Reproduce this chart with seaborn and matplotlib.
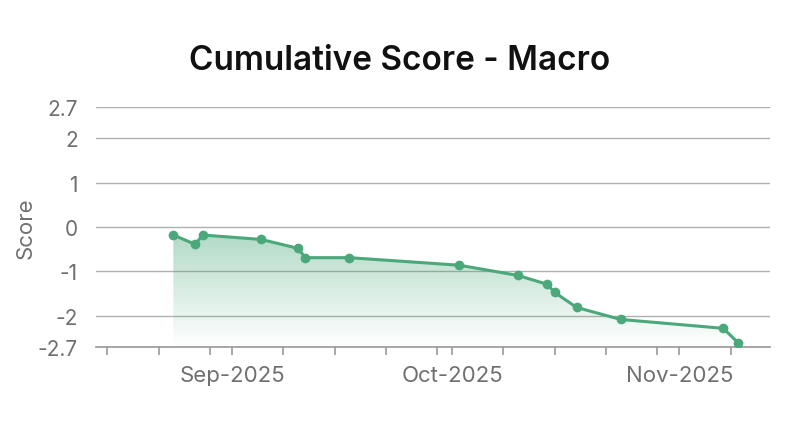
import numpy as np
import pandas as pd
import matplotlib
matplotlib.use('Agg')
import matplotlib.pyplot as plt
import matplotlib.dates as mdates
from matplotlib.colors import LinearSegmentedColormap
import seaborn as sns

dates = ['2025-08-24', '2025-08-27', '2025-08-28', '2025-09-05', '2025-09-10',
         '2025-09-11', '2025-09-17', '2025-10-02', '2025-10-10', '2025-10-14',
         '2025-10-15', '2025-10-18', '2025-10-24', '2025-11-07', '2025-11-09']
scores = [-0.18, -0.39, -0.18, -0.28, -0.48, -0.69, -0.69, -0.86, -1.09, -1.29,
          -1.47, -1.81, -2.08, -2.28, -2.60]
y_ticks = [-2.7, -2, -1, 0, 1, 2, 2.7]
y_tick_labels = ['-2.7', '-2', '-1', '0', '1', '2', '2.7']

df = pd.DataFrame({'Date': pd.to_datetime(dates), 'Score': scores})

sns.set_style('white')
plt.rcParams['font.family'] = ['Inter', 'DejaVu Sans']

green = '#4aa87a'
grey = '#6f6f6f'

fig = plt.figure(figsize=(8, 4.31), dpi=100)
ax = fig.add_axes([0.12, 0.1926, 0.8425, 0.5568])

sns.lineplot(data=df, x='Date', y='Score', ax=ax, color=green, linewidth=2.2,
             marker='o', markersize=7, markeredgewidth=0, zorder=3)

# gradient fill under the line
x_num = mdates.date2num(df['Date'])
poly = ax.fill_between(df['Date'], df['Score'], -2.7, color='none', linewidth=0)
cmap = LinearSegmentedColormap.from_list('fade', [(0.29, 0.66, 0.48, 0.0), (0.29, 0.66, 0.48, 0.42)])
grad = np.linspace(0, 1, 256).reshape(-1, 1)
img = ax.imshow(grad, aspect='auto', cmap=cmap, origin='lower',
                extent=[x_num.min(), x_num.max(), -2.7, max(scores)], zorder=2)
img.set_clip_path(poly.get_paths()[0], transform=ax.transData)

ax.set_xlim(pd.Timestamp('2025-08-13 11:00'), pd.Timestamp('2025-11-13 09:00'))
ax.set_ylim(-2.7, 2.7)
ax.set_yticks(y_ticks)
ax.set_yticklabels(y_tick_labels)

ax.xaxis.set_major_locator(mdates.MonthLocator())
ax.xaxis.set_major_formatter(mdates.DateFormatter('%b-%Y'))
ax.xaxis.set_minor_locator(mdates.DayLocator(bymonthday=[1, 8, 15, 22, 29]))

ax.grid(axis='y', color='#b0b0b0', linewidth=1)
ax.grid(axis='x', visible=False)
for s in ['top', 'right', 'left']:
    ax.spines[s].set_visible(False)
ax.spines['bottom'].set_color('#999999')
ax.spines['bottom'].set_linewidth(1.2)

ax.tick_params(axis='y', length=0, pad=13, labelsize=15, labelcolor=grey)
ax.tick_params(axis='x', which='both', length=6, width=1.2, color='#999999',
               direction='out', bottom=True, pad=7, labelsize=16, labelcolor=grey)

ax.set_xlabel('')
ax.set_ylabel('Score', fontsize=16, color=grey)
ax.yaxis.set_label_coords(-0.09, 0.5)
fig.suptitle('Cumulative Score - Macro', x=0.5, y=0.896, fontsize=24,
             fontweight='semibold', color='#111111')

fig.savefig('out.png', dpi=100)
